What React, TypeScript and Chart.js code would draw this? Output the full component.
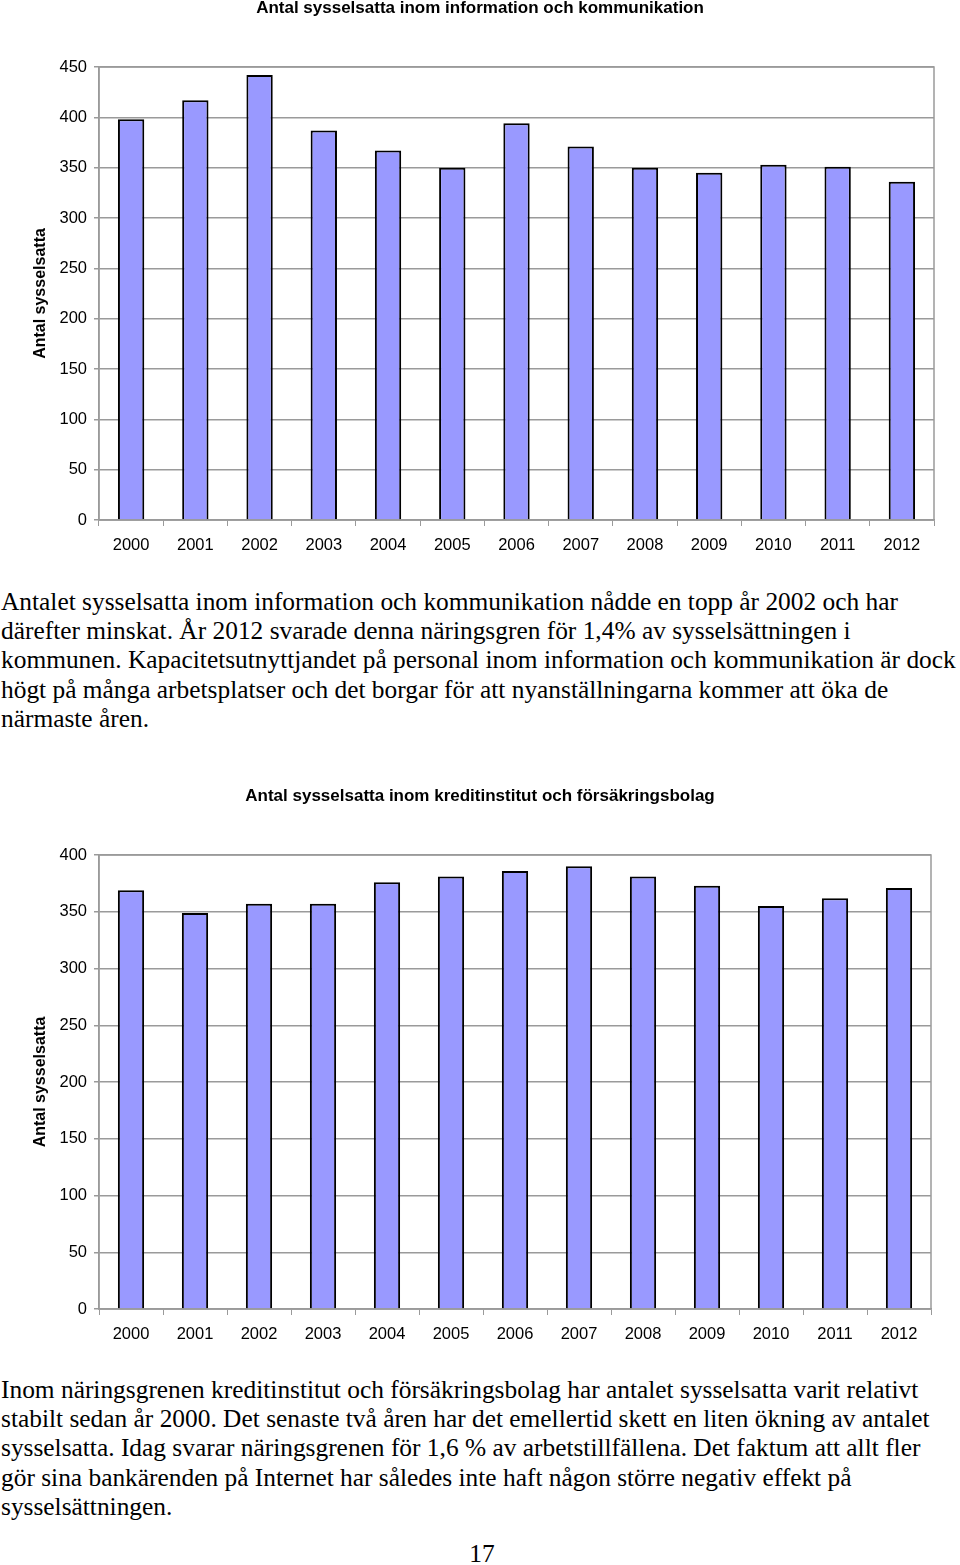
import React, { useEffect, useRef } from "react";
import { Chart, registerables } from "chart.js";

Chart.register(...registerables);

const years = ["2000", "2001", "2002", "2003", "2004", "2005", "2006", "2007", "2008", "2009", "2010", "2011", "2012"];
const infoKomValues = [398, 417, 442, 387, 367, 350, 394, 371, 350, 345, 353, 351, 336];
const kreditValues = [369, 349, 357, 357, 376, 381, 386, 390, 381, 373, 355, 362, 371];

const infoKomTitle = "Antal sysselsatta inom information och kommunikation";
const kreditTitle = "Antal sysselsatta inom kreditinstitut och försäkringsbolag";
const yAxisTitle = "Antal sysselsatta";

const infoKomMax = 450;
const kreditMax = 400;
const tickStep = 50;

const para1Lines = [
  "Antalet sysselsatta inom information och kommunikation nådde en topp år 2002 och har",
  "därefter minskat. År 2012 svarade denna näringsgren för 1,4% av sysselsättningen i",
  "kommunen. Kapacitetsutnyttjandet på personal inom information och kommunikation är dock",
  "högt på många arbetsplatser och det borgar för att nyanställningarna kommer att öka de",
  "närmaste åren.",
];
const para2Lines = [
  "Inom näringsgrenen kreditinstitut och försäkringsbolag har antalet sysselsatta varit relativt",
  "stabilt sedan år 2000. Det senaste två åren har det emellertid skett en liten ökning av antalet",
  "sysselsatta. Idag svarar näringsgrenen för 1,6 % av arbetstillfällena. Det faktum att allt fler",
  "gör sina bankärenden på Internet har således inte haft någon större negativ effekt på",
  "sysselsättningen.",
];
const pageNumber = "17";

const SANS = "'Liberation Sans', Arial, sans-serif";
const SERIF = "'Liberation Serif', 'Times New Roman', serif";
const GRID = "#9a9a9a";

const borderPlugin = {
  id: "plotBorder",
  beforeDatasetsDraw(chart: any) {
    const { ctx, chartArea } = chart;
    ctx.save();
    ctx.strokeStyle = GRID;
    ctx.lineWidth = 1.5;
    ctx.strokeRect(chartArea.left, chartArea.top, chartArea.right - chartArea.left, chartArea.bottom - chartArea.top);
    ctx.restore();
  },
};

type BarProps = {
  top: number;
  height: number;
  title: string;
  values: number[];
  max: number;
  titlePadTop: number;
  titlePadBottom: number;
  plotRight: number;
  xAxisHeight: number;
};

function BarChart(p: BarProps) {
  const ref = useRef<HTMLCanvasElement | null>(null);
  useEffect(() => {
    if (!ref.current) return;
    const chart = new Chart(ref.current, {
      type: "bar",
      data: {
        labels: years,
        datasets: [
          {
            data: p.values,
            backgroundColor: "#9999FF",
            borderColor: "#000000",
            borderWidth: 2,
            barPercentage: 0.41,
            categoryPercentage: 1,
            yAxisID: "y",
          },
        ],
      },
      options: {
        animation: false,
        responsive: false,
        maintainAspectRatio: false,
        layout: { padding: 0 },
        plugins: {
          legend: { display: false },
          tooltip: { enabled: false },
          title: {
            display: true,
            text: p.title,
            color: "#000",
            font: { family: SANS, size: 17, weight: "bold", lineHeight: 1 },
            padding: { top: p.titlePadTop, bottom: p.titlePadBottom },
          },
        },
        scales: {
          x: {
            grid: { display: true, drawOnChartArea: false, drawTicks: true, tickLength: 6, color: GRID, offset: true },
            border: { display: true, color: GRID, width: 1.5 },
            ticks: { color: "#000", font: { family: SANS, size: 16.5 }, padding: 10, maxRotation: 0, autoSkip: false },
            afterFit: (s: any) => {
              s.height = p.xAxisHeight;
            },
          },
          y: {
            min: 0,
            max: p.max,
            ticks: { stepSize: tickStep, color: "#000", font: { family: SANS, size: 16.5 }, padding: 7 },
            grid: { color: GRID, lineWidth: 1.5, tickLength: 5, drawTicks: true },
            border: { display: true, color: GRID, width: 1.5 },
            title: {
              display: true,
              text: yAxisTitle,
              color: "#000",
              font: { family: SANS, size: 16, weight: "bold", lineHeight: 1.2 },
              padding: { top: 31, bottom: 0 },
            },
            afterFit: (s: any) => {
              s.width = 99;
            },
          },
          spacer: {
            type: "linear",
            position: "right",
            display: true,
            grid: { display: false, drawTicks: false },
            border: { display: false },
            ticks: { display: false },
            afterFit: (s: any) => {
              s.width = 960 - p.plotRight;
            },
          },
        },
      },
      plugins: [borderPlugin],
    } as any);
    return () => chart.destroy();
  }, []);
  return (
    <canvas
      ref={ref}
      width={960}
      height={p.height}
      style={{ position: "absolute", left: 0, top: p.top, width: 960, height: p.height }}
    />
  );
}

function Paragraph({ lines, top }: { lines: string[]; top: number }) {
  return (
    <>
      {lines.map((l, i) => (
        <div
          key={i}
          style={{
            position: "absolute",
            left: 1,
            top: top + i * 29.2,
            fontFamily: SERIF,
            fontSize: 25.4,
            lineHeight: "29px",
            whiteSpace: "nowrap",
            color: "#000",
          }}
        >
          {l}
        </div>
      ))}
    </>
  );
}

export default function App() {
  return (
    <div style={{ position: "absolute", left: 0, top: 0, width: 960, height: 1565, background: "#fff", overflow: "hidden" }}>
      <BarChart top={0} height={570} title={infoKomTitle} values={infoKomValues} max={infoKomMax} titlePadTop={0} titlePadBottom={50} plotRight={934} xAxisHeight={50} />
      <Paragraph lines={para1Lines} top={587} />
      <BarChart top={780} height={580} title={kreditTitle} values={kreditValues} max={kreditMax} titlePadTop={8} titlePadBottom={50} plotRight={931} xAxisHeight={51} />
      <Paragraph lines={para2Lines} top={1375} />
      <div
        style={{
          position: "absolute",
          left: 0,
          width: 964,
          top: 1539,
          textAlign: "center",
          fontFamily: SERIF,
          fontSize: 25.4,
          lineHeight: "29px",
          color: "#000",
        }}
      >
        {pageNumber}
      </div>
    </div>
  );
}
